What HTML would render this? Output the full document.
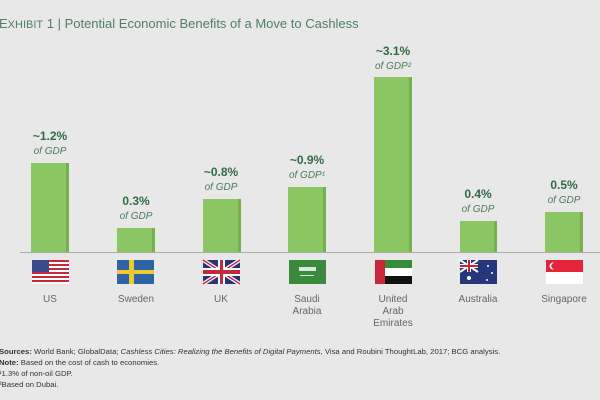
<!DOCTYPE html>
<html><head><meta charset="utf-8"><style>
body{margin:0;background:#e8e8e8;}
svg{display:block;font-family:"Liberation Sans",sans-serif;}
.v{font-weight:bold;font-size:12px;fill:#2f6b43;text-anchor:middle}
.g{font-style:italic;font-size:10px;fill:#4c7a5a;text-anchor:middle}
.c{font-size:10px;fill:#666;text-anchor:middle}
.f{font-size:7.7px;fill:#333}
</style></head><body>
<svg width="600" height="400" viewBox="0 0 600 400">
<rect width="600" height="400" fill="#e8e8e8"/>
<text x="-1" y="28" font-size="13" fill="#4f7f62">E<tspan font-size="11">XHIBIT</tspan> 1 | Potential Economic Benefits of a Move to Cashless</text>
<g fill="#8bc662">
<rect x="31" y="163" width="38" height="89"/><rect x="117" y="228" width="38" height="24"/>
<rect x="203" y="199" width="38" height="53"/><rect x="288" y="187" width="38" height="65"/>
<rect x="374" y="77" width="38" height="175"/><rect x="460" y="221" width="37" height="31"/>
<rect x="545" y="212" width="38" height="40"/></g>
<g fill="#77b050">
<rect x="66" y="163" width="3" height="89"/><rect x="152" y="228" width="3" height="24"/>
<rect x="238" y="199" width="3" height="53"/><rect x="323" y="187" width="3" height="65"/>
<rect x="409" y="77" width="3" height="175"/><rect x="494" y="221" width="3" height="31"/>
<rect x="580" y="212" width="3" height="40"/></g>
<line x1="20" y1="252.5" x2="600" y2="252.5" stroke="#aaa" stroke-width="1"/>
<text class="v" x="50" y="140">~1.2%</text><text class="g" x="50" y="154">of GDP</text>
<text class="v" x="136" y="205">0.3%</text><text class="g" x="136" y="219">of GDP</text>
<text class="v" x="221" y="176">~0.8%</text><text class="g" x="221" y="190">of GDP</text>
<text class="v" x="307" y="164">~0.9%</text><text class="g" x="307" y="178">of GDP¹</text>
<text class="v" x="393" y="55">~3.1%</text><text class="g" x="393" y="69">of GDP²</text>
<text class="v" x="478" y="198">0.4%</text><text class="g" x="478" y="212">of GDP</text>
<text class="v" x="564" y="189">0.5%</text><text class="g" x="564" y="203">of GDP</text>
<g>
<rect x="32" y="260" width="37" height="24" fill="#fff"/>
<g fill="#c8283a"><rect x="32" y="260" width="37" height="2"/><rect x="32" y="264" width="37" height="2"/><rect x="32" y="268" width="37" height="2"/><rect x="32" y="272" width="37" height="2"/><rect x="32" y="276" width="37" height="2"/><rect x="32" y="280" width="37" height="2"/></g>
<rect x="32" y="260" width="17" height="12" fill="#3a4a8a"/>
<rect x="117" y="260" width="37" height="24" fill="#2f62a6"/><rect x="129" y="260" width="5" height="24" fill="#f2c82a"/><rect x="117" y="270" width="37" height="4" fill="#f2c82a"/>
<rect x="203" y="260" width="37" height="24" fill="#26367a"/>
<path d="M203 260L240 284M240 260L203 284" stroke="#fff" stroke-width="4"/><path d="M203 260L240 284M240 260L203 284" stroke="#c8283a" stroke-width="1.5"/>
<rect x="218" y="260" width="7" height="24" fill="#fff"/><rect x="203" y="268" width="37" height="8" fill="#fff"/>
<rect x="220" y="260" width="3" height="24" fill="#c8283a"/><rect x="203" y="270" width="37" height="4" fill="#c8283a"/>
<rect x="289" y="260" width="37" height="24" fill="#3a8a3e"/><rect x="299" y="267" width="17" height="4" fill="#d9ead7"/><rect x="300" y="275" width="14" height="1" fill="#d9ead7"/>
<rect x="375" y="260" width="37" height="8" fill="#3a8a3e"/><rect x="375" y="268" width="37" height="8" fill="#fff"/><rect x="375" y="276" width="37" height="8" fill="#111"/><rect x="375" y="260" width="10" height="24" fill="#c8283a"/>
<rect x="460" y="260" width="37" height="24" fill="#26367a"/>
<path d="M460 260L478 272M478 260L460 272" stroke="#fff" stroke-width="2"/><rect x="467" y="260" width="4" height="12" fill="#fff"/><rect x="460" y="264" width="18" height="4" fill="#fff"/><rect x="468" y="260" width="2" height="12" fill="#c8283a"/><rect x="460" y="265" width="18" height="2" fill="#c8283a"/>
<circle cx="469" cy="278" r="2" fill="#fff"/><circle cx="488" cy="266" r="1" fill="#fff"/><circle cx="492" cy="273" r="1" fill="#fff"/><circle cx="487" cy="280" r="1" fill="#fff"/>
<rect x="546" y="260" width="37" height="12" fill="#e3243b"/><rect x="546" y="272" width="37" height="12" fill="#fff"/><circle cx="553" cy="266" r="3.5" fill="#fff"/><circle cx="554.5" cy="266" r="3.2" fill="#e3243b"/>
</g>
<text class="c" x="50" y="302">US</text>
<text class="c" x="136" y="302">Sweden</text>
<text class="c" x="221" y="302">UK</text>
<text class="c" x="307" y="302">Saudi</text><text class="c" x="307" y="314">Arabia</text>
<text class="c" x="393" y="302">United</text><text class="c" x="393" y="314">Arab</text><text class="c" x="393" y="326">Emirates</text>
<text class="c" x="478" y="302">Australia</text>
<text class="c" x="564" y="302">Singapore</text>
<text class="f" x="-1" y="354"><tspan font-weight="bold">Sources:</tspan> World Bank; GlobalData; <tspan font-style="italic">Cashless Cities: Realizing the Benefits of Digital Payments</tspan>, Visa and Roubini ThoughtLab, 2017; BCG analysis.</text>
<text class="f" x="-1" y="365"><tspan font-weight="bold">Note:</tspan> Based on the cost of cash to economies.</text>
<text class="f" x="-1" y="376">¹1.3% of non-oil GDP.</text>
<text class="f" x="-1" y="387">²Based on Dubai.</text>
</svg>
</body></html>
